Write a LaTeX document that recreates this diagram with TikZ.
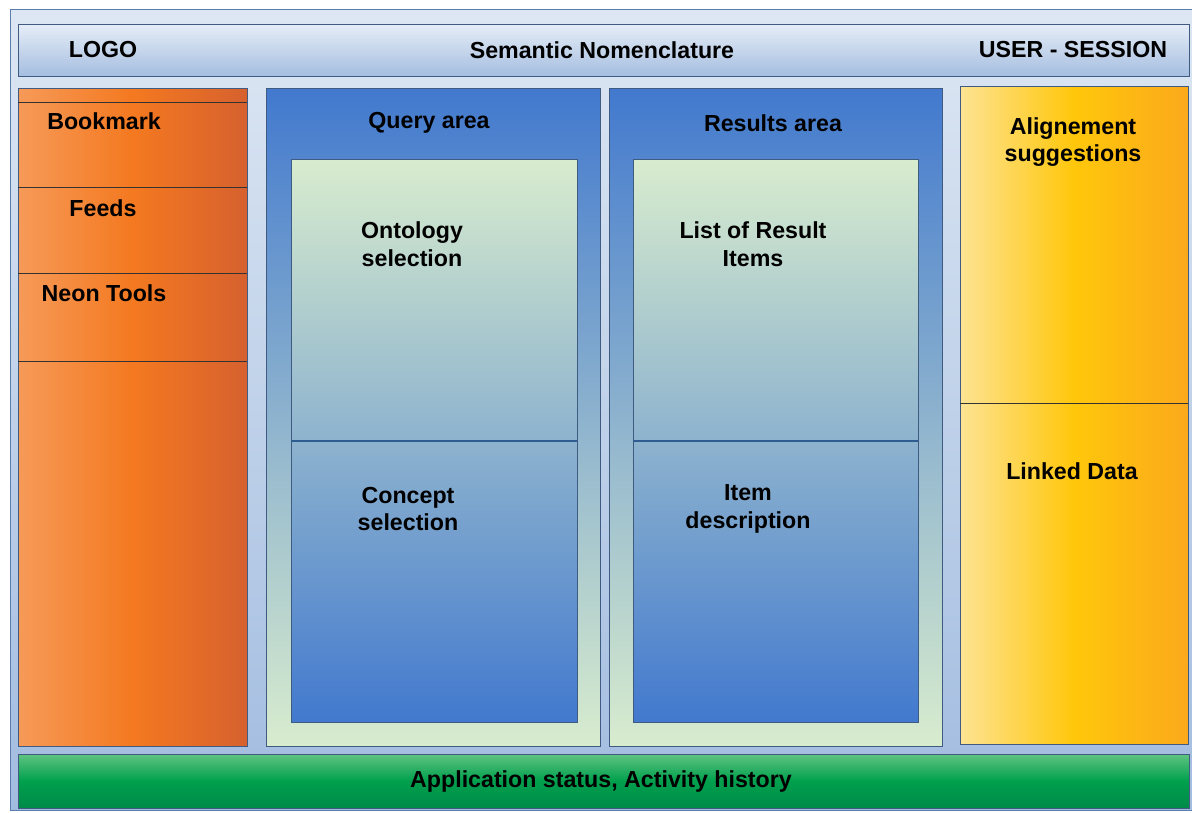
\documentclass[tikz,border=0pt]{standalone}
\usepackage{fontspec}
\setmainfont{Liberation Sans}
\usetikzlibrary{calc}
\definecolor{frameTop}{HTML}{DDE7F3}
\definecolor{frameBot}{HTML}{A2BCE0}
\definecolor{frameLine}{HTML}{5A7DAE}
\definecolor{headTop}{HTML}{E6EDF7}
\definecolor{headBot}{HTML}{A5BEE0}
\definecolor{boxLine}{HTML}{3F5B82}
\definecolor{orgL}{HTML}{F69A58}
\definecolor{orgM}{HTML}{F47920}
\definecolor{orgR}{HTML}{D6612E}
\definecolor{blueTop}{HTML}{4279CE}
\definecolor{paleGreen}{HTML}{D8ECCE}
\definecolor{divLine}{HTML}{2F5C90}
\definecolor{yelL}{HTML}{FDE393}
\definecolor{yelM}{HTML}{FFC70B}
\definecolor{yelR}{HTML}{FBA91C}
\definecolor{grnTop}{HTML}{60C382}
\definecolor{grnM}{HTML}{00A04D}
\definecolor{grnBot}{HTML}{008A48}
\tikzset{
  lbl/.style={font=\bfseries\fontsize{16.5}{19.5}\selectfont, text=black, align=center, inner sep=0pt},
  edge/.style={draw=boxLine, line width=0.5pt}
}

\begin{document}
\begin{tikzpicture}[x=0.025cm, y=-0.025cm]
			%%%%% START %%%%%
			\useasboundingbox (0, 0) rectangle (1192, 812);
			
			% frame and header
			\shade[top color=frameTop, bottom color=frameBot] (10, 9) rectangle (1196, 810);
			\draw[frameLine, line width=0.6pt] (1196, 9) -- (10, 9) -- (10, 810) -- (1196, 810);
			\shade[edge, top color=headTop, bottom color=headBot] (18, 24) rectangle (1189, 76);
			
			\node[lbl] (logo) at (103, 50) {LOGO};
			\node[lbl] (title) at (602, 50) {Semantic Nomenclature};
			\node[lbl] (user) at (1073, 50) {USER - SESSION};
			
			% left column
			\shade[edge, left color=orgL, right color=orgR, middle color=orgM] (18, 88) rectangle (247, 746);
			\draw[black!80, line width=0.6pt] (18, 102) -- (247, 102);
			\draw[black!80, line width=0.6pt] (18, 187) -- (247, 187);
			\draw[black!80, line width=0.6pt] (18, 273) -- (247, 273);
			\draw[black!80, line width=0.6pt] (18, 361) -- (247, 361);
			
			\node[lbl] (bookmark) at (104, 121) {Bookmark};
			\node[lbl] (feeds) at (103, 208) {Feeds};
			\node[lbl] (neon) at (104, 293) {Neon Tools};
			
			% query area
			\shade[edge, top color=blueTop, bottom color=paleGreen] (266, 88) rectangle (600, 746);
			\shade[edge, top color=paleGreen, bottom color=blueTop] (291, 159) rectangle (577, 722);
			\draw[divLine, line width=1.4pt] (291, 441) -- (577, 441);
			
			\node[lbl] (query) at (429, 123) {Query area};
			\node[lbl] (ontology) at (412, 244) {Ontology\\selection};
			\node[lbl] (concept) at (408, 509) {Concept\\selection};
			
			% results area
			\shade[edge, top color=blueTop, bottom color=paleGreen] (609, 88) rectangle (942, 746);
			\shade[edge, top color=paleGreen, bottom color=blueTop] (633, 159) rectangle (918, 722);
			\draw[divLine, line width=1.4pt] (633, 441) -- (918, 441);
			
			\node[lbl] (results) at (773, 123) {Results area};
			\node[lbl] (list) at (753, 244) {List of Result\\Items};
			\node[lbl] (item) at (748, 509) {Item\\description};
			
			% right column
			\shade[edge, left color=yelL, right color=yelR, middle color=yelM] (960, 86) rectangle (1188, 744);
			\draw[black!80, line width=0.6pt] (960, 403) -- (1188, 403);
			
			\node[lbl] (align) at (1073, 142) {Alignement\\suggestions};
			\node[lbl] (linked) at (1072, 471) {Linked Data};
			
			% status bar
			\shade[edge, top color=grnTop, bottom color=grnBot, middle color=grnM] (18, 754) rectangle (1189, 808);
			\node[lbl] (status) at (601, 781) {Application status, Activity history};
			
			%%%%% END %%%%%
		\end{tikzpicture}
\end{document}
